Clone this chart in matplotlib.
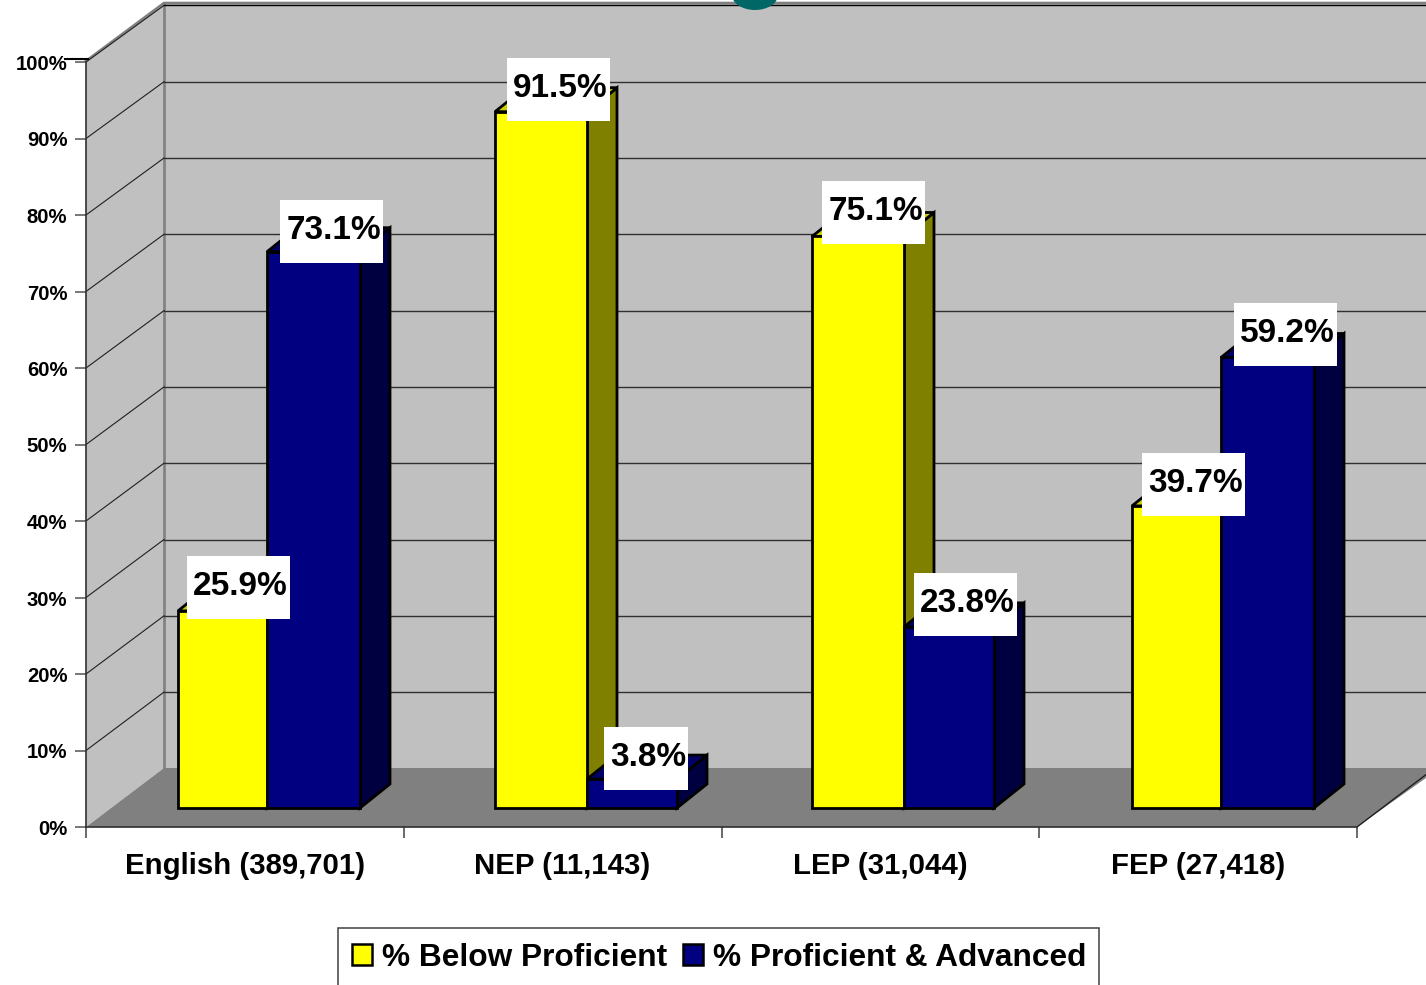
import matplotlib
matplotlib.use("Agg")
import matplotlib.pyplot as plt
from matplotlib.patches import Polygon, Rectangle, Ellipse, Patch
from matplotlib.transforms import Affine2D, ScaledTranslation

categories = ["English (389,701)", "NEP (11,143)", "LEP (31,044)", "FEP (27,418)"]
series_names = ["% Below Proficient", "% Proficient & Advanced"]
below = [25.9, 91.5, 75.1, 39.7]
proficient = [73.1, 3.8, 23.8, 59.2]
y_ticks = [0, 10, 20, 30, 40, 50, 60, 70, 80, 90, 100]

W, H = 1426, 985
plt.rcParams["font.family"] = ["Liberation Sans", "DejaVu Sans"]
plt.rcParams["font.weight"] = "bold"

fig = plt.figure(figsize=(W / 100, H / 100), dpi=100, facecolor="white")
L, R, T, B = 86, 1357, 62, 827
ax = fig.add_axes([L / W, (H - B) / H, (R - L) / W, (B - T) / H])
ax.set_xlim(0, 4)
ax.set_ylim(0, 100)
ax.patch.set_visible(False)

SX = (R - L) / 4          # pixels per category
SY = (B - T) / 100        # pixels per percent
px = Affine2D().scale(1, -1).translate(0, H)

# chart frame in pixel space
ax.add_patch(Polygon([(86, 62), (164, 4), (164, 768), (86, 827)], fc="#C0C0C0", ec="none", transform=px, zorder=1, clip_on=False))
ax.add_patch(Polygon([(164, 4), (1440, 4), (1440, 768), (164, 768)], fc="#C0C0C0", ec="none", transform=px, zorder=1, clip_on=False))
ax.add_patch(Polygon([(86, 827), (164, 768), (1440, 768), (1357, 827)], fc="#808080", ec="none", transform=px, zorder=1.2, clip_on=False))

ax.plot([164, 164], [4, 768], color="#808080", lw=1.9, transform=px, zorder=1.1, clip_on=False)
ax.plot([86, 164, 1440], [61, 3, 3], color="#808080", lw=1.9, transform=px, zorder=1.1, clip_on=False)
ax.plot([1357, 1440], [827, 764], color="#202020", lw=1, transform=px, zorder=1.3, clip_on=False)
ax.plot([65, 88], [59, 59], color="black", lw=1.5, transform=px, zorder=1.3, clip_on=False)
ax.add_patch(Ellipse((755, -5), 46, 30, fc="#006666", ec="none", transform=px, zorder=1.5, clip_on=False))

# gridlines on side and back walls
DX_W, DY_W = 78 / SX, 58.6 / SY
back_scale = 7.63 / SY
for v in y_ticks[1:]:
    yb = DY_W + v * back_scale
    ax.plot([0, DX_W], [v, yb], color="#202020", lw=0.8, zorder=1.1, clip_on=False)
    ax.plot([DX_W, 4.3], [yb, yb], color="#303030" if v < 100 else "black", lw=1.0, zorder=1.1, clip_on=False)

# bar outlines, pixel columns
bar_left = [178, 495, 812, 1132]
bar_mid = [267, 587, 904, 1221]
bar_right = [360, 677, 994, 1314]
BASE = (B - 808) / SY
BAR_SCALE = 7.61 / SY
DX, DY = 30 / SX, 24 / SY
EDGE = 2.0


def to_x(p):
    return (p - L) / SX


def bar3d(x0, x1, value, front, side, top):
    y0, y1 = BASE, BASE + value * BAR_SCALE
    ax.add_patch(Polygon([(x1, y0), (x1 + DX, y0 + DY), (x1 + DX, y1 + DY), (x1, y1)], fc=side, ec="black", lw=EDGE, zorder=3, clip_on=False, joinstyle="miter"))
    ax.add_patch(Polygon([(x0, y1), (x0 + DX, y1 + DY), (x1 + DX, y1 + DY), (x1, y1)], fc=top, ec="black", lw=EDGE, zorder=3, clip_on=False, joinstyle="miter"))
    ax.add_patch(Rectangle((x0, y0), x1 - x0, y1 - y0, fc=front, ec="black", lw=EDGE, zorder=3, clip_on=False, joinstyle="miter"))


label_specs = []
for i in range(len(categories)):
    a, b, c = to_x(bar_left[i]), to_x(bar_mid[i]), to_x(bar_right[i])
    bar3d(a, b, below[i], "#FFFF00", "#808000", "#CCCC00")
    bar3d(b, c, proficient[i], "#000080", "#000040", "#000066")
    label_specs.append((bar_left[i], below[i]))
    label_specs.append((bar_mid[i], proficient[i]))

# data labels with white boxes
label_dx = [60.5, 64.5, 63.5, 59, 61.5, 61.5, 61.5, 64.5]
label_dy = [23.5, 20.5, 22.5, 20.5, 23.5, 22.5, 21.5, 22.5]
fig.canvas.draw()
rend = fig.canvas.get_renderer()
for (p0, v), ox, oy in zip(label_specs, label_dx, label_dy):
    cx = to_x(p0 + ox)
    cy = BASE + v * BAR_SCALE + oy / SY
    t = ax.text(cx + 2 / SX, cy + 1 / SY, f"{v:.1f}%", ha="center", va="center", fontsize=24, color="black", zorder=5, clip_on=False)
    bw = t.get_window_extent(rend).width + 7.5
    ax.add_patch(Rectangle((cx - bw / 2 / SX, cy - 31.5 / SY), bw / SX, 63 / SY, fc="white", ec="none", zorder=4, clip_on=False))

# axes
for s in ("top", "right"):
    ax.spines[s].set_visible(False)
for s in ("left", "bottom"):
    ax.spines[s].set_color("#303030")
    ax.spines[s].set_linewidth(1.2)
ax.spines["left"].set_zorder(2)
ax.set_yticks(y_ticks)
ax.set_yticklabels([f"{v}%" for v in y_ticks], fontsize=14.6, color="black")
ax.tick_params(axis="y", length=8, width=1.2, color="#606060", pad=5.5)
shift = ScaledTranslation(0, -0.5 / 100, fig.dpi_scale_trans)
for lab in ax.get_yticklabels():
    lab.set_transform(lab.get_transform() + shift)
ax.set_xticks(range(5))
ax.set_xticklabels([])
ax.tick_params(axis="x", which="major", length=8, width=1.2, color="#505050")
ax.set_xticks([i + 0.5 for i in range(4)], minor=True)
ax.set_xticklabels(categories, minor=True, fontsize=21.2, color="black")
ax.tick_params(axis="x", which="minor", length=0, pad=18)

# legend
fig.add_artist(Rectangle((338, 928), 761, 70, fc="white", ec="#404040", lw=1.1, transform=px, zorder=0))
handles = [Patch(fc="#FFFF00", ec="black", lw=1.8), Patch(fc="#000080", ec="black", lw=1.8)]
leg = fig.legend(handles, series_names, loc="center", bbox_to_anchor=(719 / W, (H - 958) / H), ncol=2, frameon=False,
                 fontsize=22.8, handlelength=0.63, handleheight=0.63, handletextpad=0.32, columnspacing=0.5, borderpad=0, labelcolor="black")

fig.savefig("out.png", dpi=100, facecolor="white")
